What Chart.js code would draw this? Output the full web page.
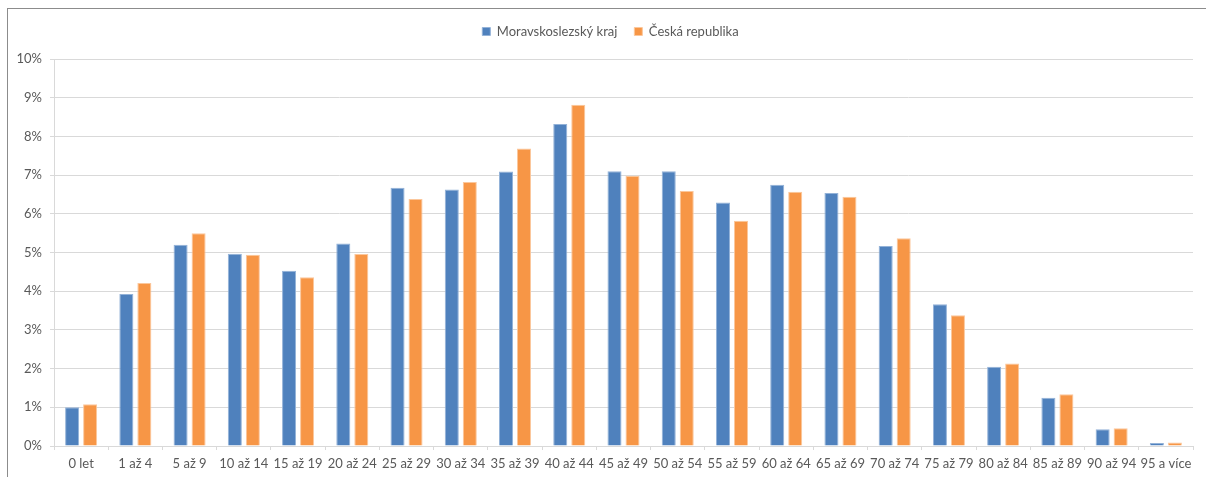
<!DOCTYPE html>
<html lang="cs">
<head>
<meta charset="utf-8">
<title>Věková struktura obyvatel</title>
<script src="https://cdn.jsdelivr.net/npm/chart.js@4/dist/chart.umd.min.js"></script>
<style>
  html, body { margin: 0; padding: 0; background: #ffffff; }
  #wrap { position: relative; width: 1206px; height: 477px; overflow: hidden; }
  #frame {
    position: absolute; left: 7px; top: 8px; width: 1300px; height: 600px;
    border-left: 1px solid #8c8c8c; border-top: 1px solid #8c8c8c;
    box-sizing: border-box;
  }
  canvas { position: absolute; left: 0; top: 0; }
</style>
</head>
<body>
<div id="wrap">
  <div id="frame"></div>
  <canvas id="chart" width="1206" height="477"></canvas>
</div>
<script>
// Age groups
const categories = [
  "0 let", "1 až 4", "5 až 9", "10 až 14", "15 až 19", "20 až 24", "25 až 29",
  "30 až 34", "35 až 39", "40 až 44", "45 až 49", "50 až 54", "55 až 59",
  "60 až 64", "65 až 69", "70 až 74", "75 až 79", "80 až 84", "85 až 89",
  "90 až 94", "95 a více"
];

// Share of population in each age group (%)
const moravskoslezsky = [
  1.00, 3.93, 5.20, 4.97, 4.53, 5.23, 6.67, 6.63, 7.09, 8.32, 7.10,
  7.10, 6.29, 6.75, 6.54, 5.17, 3.66, 2.05, 1.25, 0.43, 0.08
];
const ceskaRepublika = [
  1.08, 4.21, 5.50, 4.94, 4.36, 4.96, 6.38, 6.82, 7.69, 8.82, 6.98,
  6.59, 5.82, 6.57, 6.44, 5.37, 3.38, 2.13, 1.34, 0.46, 0.09
];

const seriesNames = ["Moravskoslezský kraj", "Česká republika"];
const yTicks = [0, 1, 2, 3, 4, 5, 6, 7, 8, 9, 10];

const FONT = "Lato, 'Open Sans', 'DejaVu Sans', sans-serif";
const TEXT = "#595959";
const GRID = "#d9d9d9";

// Fix the legend band height so the plot starts just below it,
// and nudge the legend row a little to the right
const legendLayout = {
  id: "legendLayout",
  beforeInit(chart) {
    const fit = chart.legend.fit;
    chart.legend.fit = function () {
      fit.call(this);
      this.height = 51;
    };
  },
  afterLayout(chart) {
    const lg = chart.legend;
    lg.left += 14;
    lg.right += 14;
  }
};

new Chart(document.getElementById("chart"), {
  type: "bar",
  data: {
    labels: categories,
    datasets: [
      {
        label: seriesNames[0],
        data: moravskoslezsky,
        backgroundColor: "#4F81BD",
        borderColor: "#93B2D8",
        borderWidth: 1,
        borderSkipped: "bottom"
      },
      {
        label: seriesNames[1],
        data: ceskaRepublika,
        backgroundColor: "#F79646",
        borderColor: "#FBC79C",
        borderWidth: 1,
        borderSkipped: "bottom"
      }
    ]
  },
  options: {
    responsive: false,
    animation: false,
    devicePixelRatio: 1,
    categoryPercentage: 0.664,
    barPercentage: 0.78,
    layout: { padding: { top: 8, right: 13, bottom: 0, left: 0 } },
    plugins: {
      tooltip: { enabled: false },
      legend: {
        position: "top",
        align: "center",
        labels: {
          boxWidth: 8,
          boxHeight: 8,
          padding: 17,
          color: TEXT,
          font: { family: FONT, size: 13 }
        }
      }
    },
    scales: {
      x: {
        grid: {
          offset: true,
          drawOnChartArea: false,
          drawTicks: true,
          tickLength: 4,
          color: GRID
        },
        border: { display: true, color: GRID },
        ticks: {
          color: TEXT,
          padding: 6,
          maxRotation: 0,
          autoSkip: false,
          font: { family: FONT, size: 13 }
        },
        afterFit(scale) { scale.height = 31; }
      },
      y: {
        min: 0,
        max: 10,
        afterBuildTicks(scale) {
          scale.ticks = yTicks.map(v => ({ value: v }));
        },
        grid: {
          color: GRID,
          lineWidth: 1,
          drawTicks: true,
          tickLength: 4
        },
        border: { display: true, color: GRID },
        ticks: {
          color: TEXT,
          padding: 8,
          font: { family: FONT, size: 13 },
          callback: v => v + "%"
        },
        afterFit(scale) { scale.width = 54; }
      }
    }
  },
  plugins: [legendLayout]
});
</script>
</body>
</html>
